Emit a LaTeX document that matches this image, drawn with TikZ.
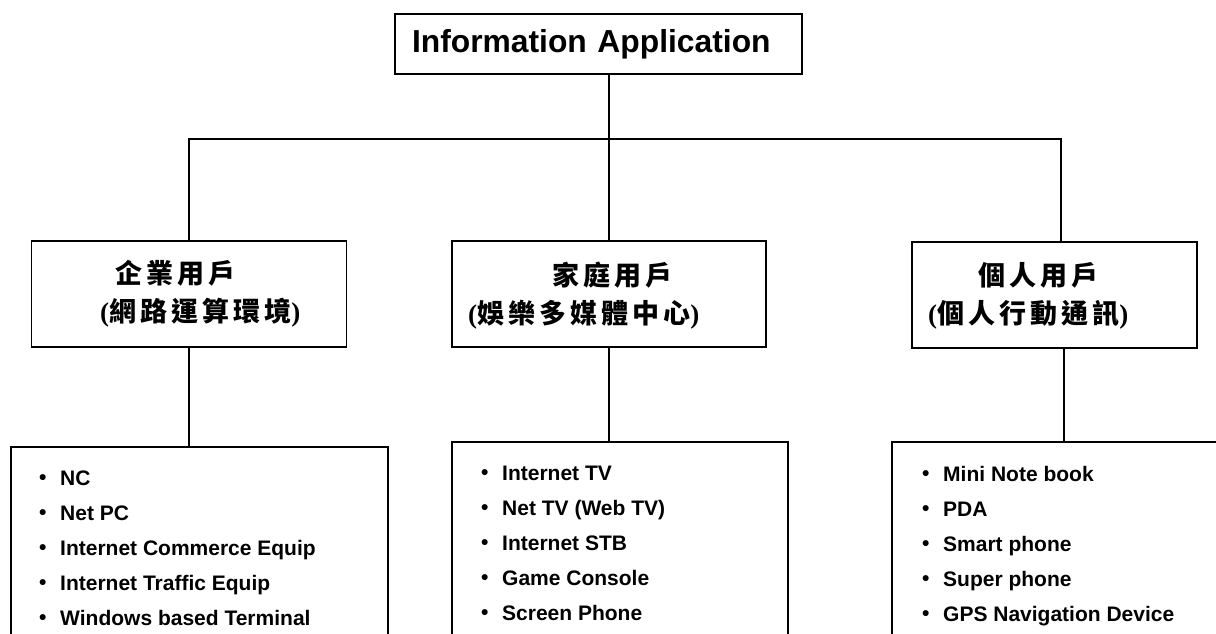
\documentclass[tikz,border=0pt]{standalone}
\usepackage{fontspec}
\usepackage{tikz}
\setmainfont{Liberation Sans}
\newfontfamily\cjkfont{Noto Sans CJK TC}[LetterSpace=15]
\newfontfamily\parenfont{Liberation Serif}
\newcommand{\itm}{\makebox[21pt][l]{\raisebox{1pt}{\textbullet}}}
\newcommand{\zh}[1]{{\fontsize{27}{27}\selectfont\cjkfont\bfseries #1}}
\newcommand{\pz}[1]{{\fontsize{27}{27}\selectfont\parenfont\bfseries #1}}

\begin{document}
\begin{tikzpicture}[x=1pt,y=-1pt,
  box/.style={draw,line width=1.6pt,inner sep=0pt},
  link/.style={line width=2pt},
  lbl/.style={anchor=west,inner sep=0pt},
  items/.style={anchor=north west,inner sep=0pt,align=left,
    font=\fontsize{21}{35}\selectfont\bfseries}]
\useasboundingbox (0,0) rectangle (1216,633);

% top box
\node[box,minimum height=60pt,text width=373pt,inner xsep=17pt,align=left,
  font=\fontsize{31.8}{34}\selectfont\bfseries] (app) at (598.5,44) {Information Application};

% user boxes
\node[box,minimum width=315pt,minimum height=106pt] (ent) at (189,294) {};
\node[box,minimum width=314pt,minimum height=106pt] (fam) at (609,294) {};
\node[box,minimum width=285pt,minimum height=106pt] (per) at (1054.5,295) {};

\node[lbl] (entA) at (115,273) {\zh{企業用戶}};
\node[lbl] (entB) at (100,313) {\pz{(}\zh{網路運算環境}\pz{)}};
\node[lbl] (famA) at (552,275) {\zh{家庭用戶}};
\node[lbl] (famB) at (468,315) {\pz{(}\zh{娛樂多媒體中心}\pz{)}};
\node[lbl] (perA) at (978,275) {\zh{個人用戶}};
\node[lbl] (perB) at (928,315) {\pz{(}\zh{個人行動通訊}\pz{)}};

% device lists
\node[box,minimum width=377pt,minimum height=230pt] (entlist) at (199.5,562) {};
\node[box,minimum width=336pt,minimum height=230pt] (famlist) at (620,557) {};
\node[box,minimum width=348pt,minimum height=230pt] (perlist) at (1066,557) {};

\node[items] (entitems) at (39,470.5) {\itm NC\\ \itm Net PC\\ \itm Internet Commerce Equip\\
  \itm Internet Traffic Equip\\ \itm Windows based Terminal};
\node[items] (famitems) at (481,466) {\itm Internet TV\\ \itm Net TV (Web TV)\\ \itm Internet STB\\
  \itm Game Console\\ \itm Screen Phone};
\node[items] (peritems) at (922,466) {\itm Mini Note book\\ \itm PDA\\ \itm Smart phone\\
  \itm Super phone\\ \itm GPS Navigation Device};

% connectors
\coordinate (hub) at (609,139);
\draw[link] (hub |- app.south) -- (hub);
\draw[link] (hub) -| (ent.north);
\draw[link] (hub) -- (hub |- fam.north);
\draw[link] (hub) -| ([xshift=6.5]per.north);
\draw[link] (ent.south) -- (ent.south |- entlist.north);
\draw[link] (fam.south) -- (fam.south |- famlist.north);
\draw[link] ([xshift=9.5]per.south) -- ([xshift=9.5]per.south |- perlist.north);
\end{tikzpicture}
\end{document}
